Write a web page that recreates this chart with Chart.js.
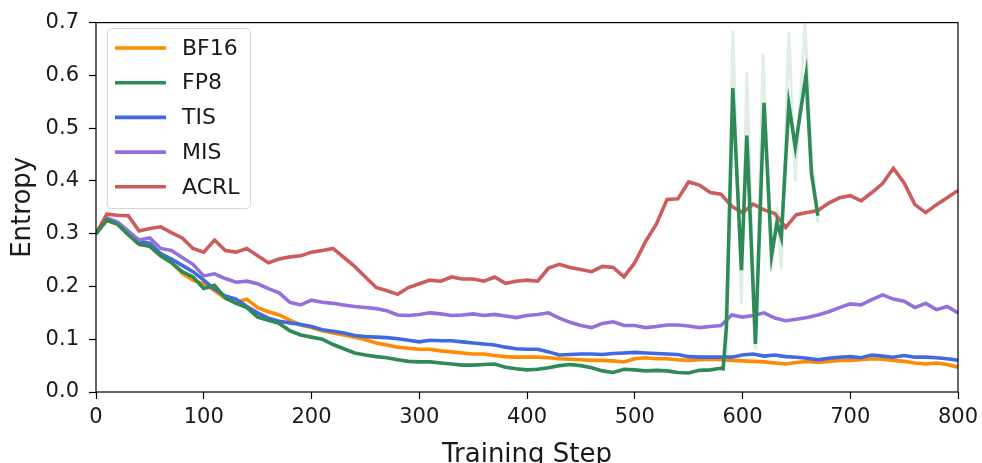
<!DOCTYPE html>
<html>
<head>
<meta charset="utf-8">
<script src="https://cdn.jsdelivr.net/npm/chart.js@4.4.1/dist/chart.umd.min.js"></script>
<style>
  body { margin: 0; background: #fff; }
  #wrap { width: 982px; height: 463px; }
</style>
</head>
<body>
<div id="wrap"><canvas id="entropy_chart" width="982" height="463"></canvas></div>
<script>
// Training steps shared by the smoothed curves (every 10 steps)
var steps = [];
for (var s = 0; s <= 800; s += 10) steps.push(s);

var bf16 = [0.300,0.325,0.318,0.298,0.280,0.276,0.258,0.246,0.225,0.212,
            0.205,0.192,0.178,0.170,0.176,0.160,0.152,0.146,0.136,0.127,
            0.122,0.116,0.112,0.108,0.104,0.099,0.093,0.089,0.085,0.083,
            0.081,0.081,0.078,0.076,0.074,0.072,0.072,0.069,0.067,0.066,
            0.066,0.066,0.065,0.063,0.062,0.061,0.060,0.060,0.059,0.057,
            0.063,0.065,0.063,0.063,0.061,0.060,0.061,0.062,0.061,0.060,
            0.059,0.058,0.057,0.055,0.053,0.056,0.058,0.056,0.058,0.060,
            0.060,0.061,0.063,0.062,0.060,0.058,0.055,0.053,0.055,0.052,0.047];

var tis = [0.300,0.328,0.320,0.300,0.284,0.282,0.262,0.252,0.240,0.228,
           0.212,0.195,0.182,0.176,0.162,0.150,0.140,0.134,0.131,0.128,
           0.124,0.118,0.115,0.112,0.107,0.105,0.104,0.103,0.101,0.098,
           0.095,0.098,0.097,0.097,0.095,0.093,0.091,0.089,0.085,0.082,
           0.081,0.081,0.076,0.070,0.071,0.072,0.072,0.071,0.073,0.074,
           0.075,0.074,0.073,0.072,0.071,0.067,0.066,0.066,0.066,0.066,
           0.070,0.072,0.068,0.070,0.067,0.066,0.064,0.061,0.064,0.066,
           0.067,0.065,0.070,0.068,0.066,0.069,0.066,0.066,0.065,0.063,0.060];

var mis = [0.300,0.330,0.322,0.305,0.288,0.292,0.272,0.268,0.255,0.242,
           0.220,0.224,0.215,0.208,0.210,0.205,0.196,0.188,0.170,0.165,
           0.174,0.170,0.168,0.165,0.162,0.160,0.158,0.154,0.146,0.145,
           0.147,0.150,0.148,0.145,0.146,0.148,0.145,0.147,0.144,0.141,
           0.145,0.147,0.150,0.140,0.132,0.126,0.122,0.130,0.133,0.126,
           0.126,0.122,0.124,0.127,0.127,0.125,0.122,0.124,0.126,0.146,
           0.142,0.145,0.150,0.140,0.135,0.138,0.141,0.146,0.152,0.160,
           0.167,0.165,0.175,0.184,0.176,0.172,0.160,0.168,0.156,0.162,0.150];

var acrl = [0.300,0.337,0.335,0.334,0.305,0.310,0.313,0.302,0.292,0.272,
            0.265,0.288,0.268,0.265,0.272,0.258,0.245,0.252,0.256,0.258,
            0.265,0.268,0.272,0.255,0.238,0.218,0.198,0.192,0.185,0.198,
            0.205,0.212,0.210,0.218,0.214,0.214,0.210,0.218,0.206,0.210,
            0.212,0.210,0.235,0.242,0.236,0.232,0.228,0.238,0.236,0.218,
            0.245,0.285,0.318,0.365,0.366,0.398,0.392,0.378,0.375,0.352,
            0.340,0.356,0.345,0.338,0.312,0.336,0.340,0.344,0.358,0.368,
            0.372,0.362,0.378,0.395,0.424,0.396,0.355,0.340,0.355,0.368,0.382];

// FP8 has its own steps: the run diverges after step ~585 and stops at 670
var fp8Steps = [0,10,20,30,40,50,60,70,80,90,100,110,120,130,140,150,160,170,180,190,
                200,210,220,230,240,250,260,270,280,290,300,310,320,330,340,350,360,370,380,390,
                400,410,420,430,440,450,460,470,480,490,500,510,520,530,540,550,560,570,580,
                582,585,591,599,604,612,620,627,632,636,643,649,653,659,664,670];
var fp8 = [0.300,0.326,0.318,0.298,0.280,0.276,0.258,0.245,0.228,0.218,0.196,0.202,0.178,0.168,0.160,0.142,0.136,0.130,0.116,0.108,
           0.104,0.100,0.090,0.082,0.074,0.070,0.067,0.065,0.061,0.058,0.057,0.057,0.055,0.053,0.051,0.051,0.052,0.053,0.047,0.044,
           0.042,0.043,0.046,0.050,0.052,0.050,0.046,0.040,0.037,0.043,0.042,0.040,0.041,0.040,0.037,0.036,0.041,0.042,0.045,
           0.044,0.122,0.576,0.231,0.486,0.091,0.548,0.259,0.321,0.293,0.545,0.464,0.520,0.601,0.414,0.334];

// faint raw FP8 values around the divergence (visible behind the smoothed curve)
var fp8RawSteps = [580,585,591,599,604,612,619,627,632,636,643,649,658,664,670];
var fp8Raw = [0.045,0.060,0.685,0.166,0.607,0.080,0.641,0.228,0.350,0.234,0.682,0.400,0.700,0.450,0.320];

var seriesNames = ['BF16', 'FP8', 'TIS', 'MIS', 'ACRL'];
var seriesColors = ['#ff8c00', '#2e8b57', '#4169e1', '#9370db', '#cd5c5c'];

function toPoints(xs, ys) {
    return xs.map(function (x, i) { return { x: x, y: ys[i] }; });
}

var lineData = [toPoints(steps, bf16), toPoints(fp8Steps, fp8), toPoints(steps, tis),
                toPoints(steps, mis), toPoints(steps, acrl)];
var drawOrder = [4, 0, 3, 2, 1];   // lower = drawn on top

var datasets = seriesNames.map(function (name, i) {
    return {
        label: name,
        data: lineData[i],
        borderColor: seriesColors[i],
        backgroundColor: seriesColors[i],
        borderWidth: 3.6,
        pointRadius: 0,
        tension: 0,
        order: drawOrder[i]
    };
});
datasets.push({
    label: 'FP8 raw',
    data: toPoints(fp8RawSteps, fp8Raw),
    borderColor: 'rgba(46, 139, 87, 0.15)',
    borderWidth: 3,
    pointRadius: 0,
    tension: 0,
    order: 10,
    hideInLegend: true
});

var FONT = '"DejaVu Sans", sans-serif';
var TEXT = '#1a1a1a';

// matplotlib style frame and legend inside the axes
var framePlugin = {
    id: 'frame',
    afterDatasetsDraw: function (chart) {
        var a = chart.chartArea, ctx = chart.ctx;
        ctx.save();
        ctx.strokeStyle = '#000';
        ctx.lineWidth = 1.2;
        ctx.strokeRect(a.left, a.top, a.right - a.left, a.bottom - a.top);

        // legend box
        var bx = 107.5, by = 28.5, bw = 143, bh = 180, r = 4;
        ctx.beginPath();
        ctx.moveTo(bx + r, by);
        ctx.arcTo(bx + bw, by, bx + bw, by + bh, r);
        ctx.arcTo(bx + bw, by + bh, bx, by + bh, r);
        ctx.arcTo(bx, by + bh, bx, by, r);
        ctx.arcTo(bx, by, bx + bw, by, r);
        ctx.closePath();
        ctx.fillStyle = 'rgba(255,255,255,0.8)';
        ctx.fill();
        ctx.strokeStyle = '#d6d6d6';
        ctx.lineWidth = 1;
        ctx.stroke();

        ctx.font = '22px ' + FONT;
        ctx.textBaseline = 'middle';
        ctx.fillStyle = TEXT;
        chart.data.datasets.forEach(function (ds, i) {
            if (ds.hideInLegend) return;
            var y = 48 + i * 34.7;
            ctx.strokeStyle = ds.borderColor;
            ctx.lineWidth = 3.6;
            ctx.beginPath();
            ctx.moveTo(115, y);
            ctx.lineTo(166, y);
            ctx.stroke();
            ctx.fillStyle = TEXT;
            ctx.fillText(ds.label, 182, y + 1);
        });
        ctx.restore();
    }
};

var context = document.getElementById('entropy_chart').getContext('2d');
var chart = new Chart(context, {
    type: 'line',
    data: { datasets: datasets },
    plugins: [framePlugin],
    options: {
        responsive: false,
        animation: false,
        layout: { padding: { top: 17, right: 24, left: 0, bottom: 0 } },
        plugins: {
            legend: { display: false },
            tooltip: { enabled: false }
        },
        scales: {
            x: {
                type: 'linear',
                min: 0,
                max: 800,
                afterFit: function (scale) {
                    scale.height = 71;
                    scale.paddingLeft = 0;
                    scale.paddingRight = 0;
                },
                ticks: {
                    stepSize: 100,
                    padding: 6,
                    color: TEXT,
                    font: { family: FONT, size: 21 },
                    maxRotation: 0
                },
                grid: { display: true, drawOnChartArea: false, tickLength: 7, tickColor: '#000', tickWidth: 1.2 },
                border: { display: false },
                title: {
                    display: true,
                    text: 'Training Step',
                    color: TEXT,
                    font: { family: FONT, size: 26 },
                    padding: { top: 0, bottom: -8 }
                }
            },
            y: {
                min: 0,
                max: 0.7,
                afterFit: function (scale) { scale.width = 96; },
                ticks: {
                    stepSize: 0.1,
                    padding: 10,
                    color: TEXT,
                    font: { family: FONT, size: 21 },
                    callback: function (v) { return v.toFixed(1); }
                },
                grid: { display: true, drawOnChartArea: false, tickLength: 7, tickColor: '#000', tickWidth: 1.2 },
                border: { display: false },
                title: {
                    display: true,
                    text: 'Entropy',
                    color: TEXT,
                    font: { family: FONT, size: 26 },
                    padding: { top: 8, bottom: 0 }
                }
            }
        }
    }
});
</script>
</body>
</html>
